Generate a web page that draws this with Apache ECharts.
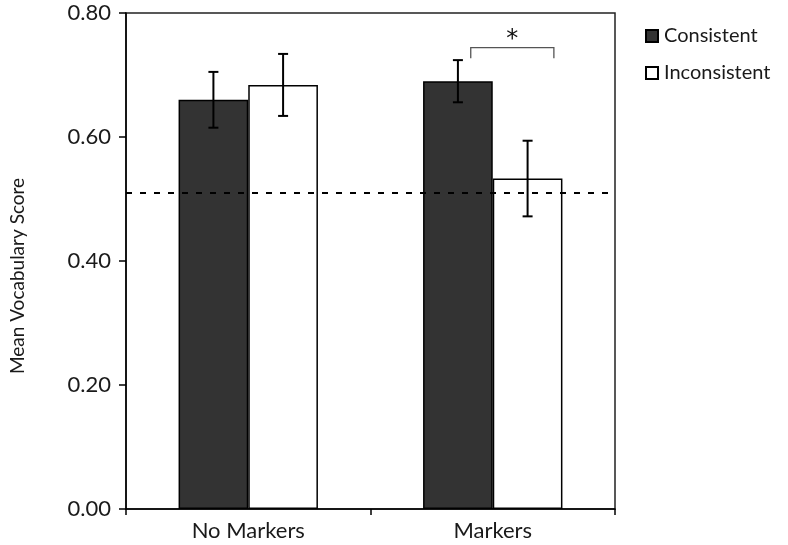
<!DOCTYPE html>
<html><head><meta charset="utf-8">
<script src="https://cdn.jsdelivr.net/npm/echarts@6/dist/echarts.min.js"></script>
<style>html,body{margin:0;padding:0;background:#fff}#c{width:788px;height:545px}</style>
</head><body><div id="c"></div>
<script>
const categories = ['No Markers', 'Markers'];
const seriesNames = ['Consistent', 'Inconsistent'];
const consistent = [0.660, 0.690];
const inconsistent = [0.684, 0.533];
const consistentErr = [0.045, 0.034];
const inconsistentErr = [0.050, 0.061];
const chanceLevel = 0.505;
const yTicks = [0, 0.2, 0.4, 0.6, 0.8];
const sigBracket = { category: 1, from: -0.09, to: 0.25, top: 0.744, bottom: 0.727, label: '*' };

const FONT = 'Lato';
const gapPct = 43;
const chart = echarts.init(document.getElementById('c'));

function errSeries(vals, errs, side) {
  return {
    type: 'custom', silent: true, z: 5,
    data: vals.map((v, i) => [i, v - errs[i], v + errs[i]]),
    renderItem: function (params, api) {
      const band = api.size([1, 0])[0];
      const bw = band * (1 - gapPct / 100) / 2;
      const lo = api.coord([api.value(0), api.value(1)]);
      const hi = api.coord([api.value(0), api.value(2)]);
      const x = lo[0] + side * bw / 2;
      const cap = 5;
      const st = { stroke: '#000', lineWidth: 2 };
      return { type: 'group', children: [
        { type: 'line', shape: { x1: x, y1: lo[1], x2: x, y2: hi[1] }, style: st },
        { type: 'line', shape: { x1: x - cap, y1: lo[1], x2: x + cap, y2: lo[1] }, style: st },
        { type: 'line', shape: { x1: x - cap, y1: hi[1], x2: x + cap, y2: hi[1] }, style: st }
      ]};
    }
  };
}

chart.setOption({
  animation: false,
  backgroundColor: '#fff',
  textStyle: { fontFamily: FONT, color: '#1a1a1a' },
  grid: { left: 124, right: 173, top: 13, bottom: 36, show: true, borderColor: '#222', borderWidth: 1.5, backgroundColor: 'transparent' },
  legend: {
    orient: 'vertical', left: 640, top: 21, itemWidth: 12, itemHeight: 12, itemGap: 17,
    icon: 'rect',
    textStyle: { fontFamily: FONT, fontSize: 20, color: '#1a1a1a', padding: [0, 0, 0, 1] },
    data: seriesNames
  },
  xAxis: {
    type: 'category', data: categories,
    axisLine: { lineStyle: { color: '#000', width: 1.5 } },
    axisTick: { show: true, length: 6, lineStyle: { color: '#000', width: 1.5 } },
    axisLabel: { fontFamily: FONT, fontSize: 22, color: '#1a1a1a', margin: 11 }
  },
  yAxis: {
    type: 'value', min: 0, max: 0.8, interval: 0.2,
    name: 'Mean Vocabulary Score', nameLocation: 'middle', nameGap: 99,
    nameTextStyle: { fontFamily: FONT, fontSize: 19, color: '#1a1a1a', padding: [0, 30, 0, 0] },
    axisLine: { show: true, lineStyle: { color: '#000', width: 1.5 } },
    axisTick: { show: true, length: 7, lineStyle: { color: '#000', width: 1.5 } },
    splitLine: { show: false },
    axisLabel: { fontFamily: FONT, fontSize: 22, color: '#1a1a1a', margin: 15,
      formatter: v => yTicks.includes(Math.round(v * 10) / 10) ? v.toFixed(2) : '' }
  },
  series: [
    {
      name: seriesNames[0], type: 'bar', data: consistent, barGap: '0%', barCategoryGap: gapPct + '%',
      itemStyle: { color: '#333333', borderColor: '#000', borderWidth: 1.5 },
      markLine: {
        silent: true, symbol: 'none', label: { show: false },
        lineStyle: { type: [6, 8], color: '#000', width: 1.8 },
        data: [{ yAxis: chanceLevel }]
      }
    },
    {
      name: seriesNames[1], type: 'bar', data: inconsistent,
      itemStyle: { color: '#ffffff', borderColor: '#000', borderWidth: 1.5 }
    },
    errSeries(consistent, consistentErr, -1),
    errSeries(inconsistent, inconsistentErr, 1),
    {
      type: 'custom', silent: true, z: 5,
      data: [[sigBracket.category, sigBracket.top, sigBracket.bottom]],
      renderItem: function (params, api) {
        const band = api.size([1, 0])[0];
        const c = api.coord([api.value(0), api.value(1)]);
        const b = api.coord([api.value(0), api.value(2)]);
        const x1 = c[0] + sigBracket.from * band, x2 = c[0] + sigBracket.to * band;
        const st = { stroke: '#555', lineWidth: 1.3, fill: null };
        return { type: 'group', children: [
          { type: 'polyline', shape: { points: [[x1, b[1]], [x1, c[1]], [x2, c[1]], [x2, b[1]]] }, style: st },
          { type: 'text', style: { text: sigBracket.label, x: (x1 + x2) / 2, y: c[1] + 4, align: 'center', verticalAlign: 'bottom', fontSize: 24, fontFamily: 'DejaVu Sans', fill: '#111' } }
        ]};
      }
    }
  ]
});
</script></body></html>
